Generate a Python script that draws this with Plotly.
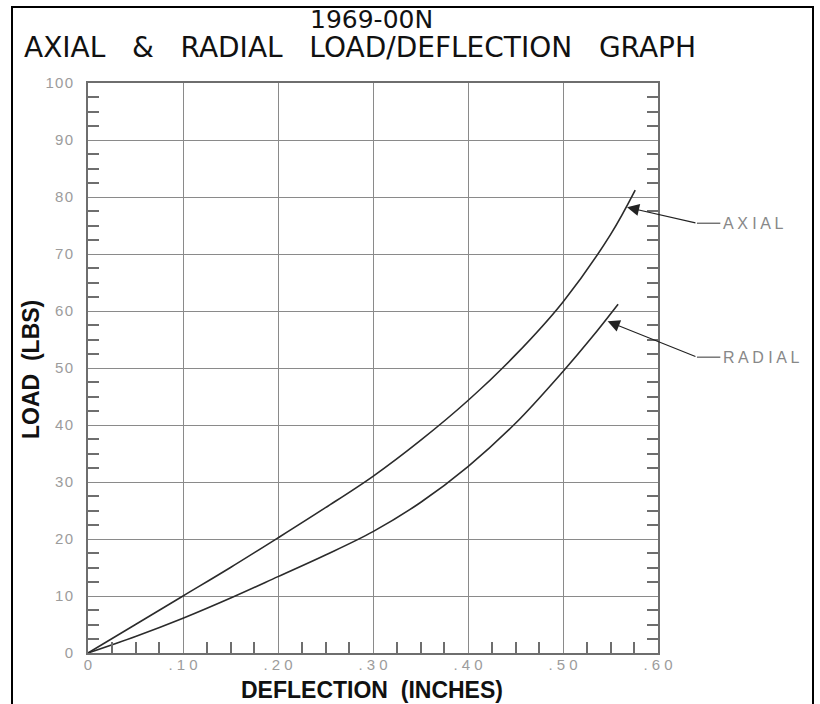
import plotly.graph_objects as go

# Data
axial_x = [0.0, 0.05, 0.10, 0.15, 0.20, 0.25, 0.30, 0.35, 0.40, 0.45, 0.50, 0.55, 0.576]
axial_y = [0.0, 5.0, 10.0, 15.0, 20.2, 25.5, 31.0, 37.3, 44.3, 52.3, 61.6, 73.4, 81.2]
radial_x = [0.0, 0.05, 0.10, 0.155, 0.20, 0.25, 0.30, 0.35, 0.40, 0.45, 0.50, 0.53, 0.558]
radial_y = [0.0, 2.9, 6.1, 10.0, 13.4, 17.2, 21.3, 26.4, 32.7, 40.3, 49.4, 55.3, 61.2]

x_tickvals = [0, 0.1, 0.2, 0.3, 0.4, 0.5, 0.6]
x_ticktext = ["0", ".10", ".20", ".30", ".40", ".50", ".60"]
y_tickvals = [0, 10, 20, 30, 40, 50, 60, 70, 80, 90, 100]
y_ticktext = ["0", "10", "20", "30", "40", "50", "60", "70", "80", "90", "100"]

# Callout anchor points in data units: (tip on curve, bend, label start)
callouts = [
    dict(tip=(0.5674, 78.2), bend=(0.641, 75.4), label=(0.668, 75.4), text="AXIAL"),
    dict(tip=(0.547, 58.2), bend=(0.641, 51.9), label=(0.668, 51.9), text="RADIAL"),
]

XR = [0, 0.6]
YR = [0, 100]
ML, MR, MT, MB = 88, 162, 83, 51
W, H = 820, 704
PW, PH = W - ML - MR, H - MT - MB

def to_px(x):
    return (x - XR[0]) / (XR[1] - XR[0])

def to_py(y):
    return (y - YR[0]) / (YR[1] - YR[0])

def pix_x(p):
    return (p - ML) / PW

def pix_y(p):
    return (H - MB - p) / PH

def spaced(s, sep=" "):
    return sep.join(list(s))

TICKFONT = dict(family="Liberation Sans", size=15, color="#9c9c9c")
LINE_COLOR = "#2b2b2b"
GRID = "#8a8a8a"
AXIS = "#6e6e6e"

fig = go.Figure()
fig.add_trace(go.Scatter(x=axial_x, y=axial_y, mode="lines",
                         line=dict(color=LINE_COLOR, width=1.6, shape="spline", smoothing=1.0),
                         showlegend=False, hoverinfo="skip"))
fig.add_trace(go.Scatter(x=radial_x, y=radial_y, mode="lines",
                         line=dict(color=LINE_COLOR, width=1.6, shape="spline", smoothing=1.0),
                         showlegend=False, hoverinfo="skip"))

annotations = []
shapes = []
for c in callouts:
    annotations.append(dict(x=c["tip"][0], y=c["tip"][1], xref="x", yref="y",
                            ax=c["bend"][0], ay=c["bend"][1], axref="x", ayref="y",
                            text="", showarrow=True, arrowhead=2, arrowsize=2.2, arrowwidth=1.1,
                            arrowcolor="#222222"))
    shapes.append(dict(type="line", xref="paper", yref="paper",
                       x0=to_px(c["bend"][0]), x1=to_px(c["label"][0]) - 0.004,
                       y0=to_py(c["bend"][1]), y1=to_py(c["label"][1]),
                       line=dict(color="#555555", width=1.2)))
    annotations.append(dict(x=to_px(c["label"][0]), y=to_py(c["label"][1]), xref="paper", yref="paper",
                            text=spaced(c["text"]), showarrow=False,
                            xanchor="left", yanchor="middle", xshift=-2,
                            font=dict(family="Liberation Sans", size=16, color="#888888")))

# Titles
annotations.append(dict(x=pix_x(371), y=pix_y(19.5), xref="paper", yref="paper",
                        text="1969-00N", showarrow=False, xanchor="center", yanchor="middle",
                        font=dict(family="DejaVu Sans", size=25, color="#111111")))
annotations.append(dict(x=pix_x(360), y=pix_y(47), xref="paper", yref="paper",
                        text="AXIAL\u00a0\u00a0\u00a0&\u00a0\u00a0\u00a0RADIAL\u00a0\u00a0\u00a0LOAD/DEFLECTION\u00a0\u00a0\u00a0GRAPH",
                        showarrow=False, xanchor="center", yanchor="middle",
                        font=dict(family="DejaVu Sans", size=28, color="#111111")))
# Axis titles
annotations.append(dict(x=pix_x(372), y=pix_y(690), xref="paper", yref="paper",
                        text="<b>DEFLECTION\u00a0\u00a0(INCHES)</b>", showarrow=False,
                        xanchor="center", yanchor="middle",
                        font=dict(family="Liberation Sans", size=23, color="#111111")))
annotations.append(dict(x=pix_x(31), y=pix_y(370), xref="paper", yref="paper",
                        text="<b>LOAD\u00a0\u00a0(LBS)</b>", showarrow=False, textangle=-90,
                        xanchor="center", yanchor="middle",
                        font=dict(family="Liberation Sans", size=23, color="#111111")))

shapes.append(dict(type="rect", xref="paper", yref="paper",
                   x0=pix_x(12), x1=pix_x(813), y0=pix_y(720), y1=pix_y(7),
                   line=dict(color="black", width=2), fillcolor="rgba(0,0,0,0)", layer="below"))

fig.update_layout(
    width=W, height=H,
    margin=dict(l=ML, r=MR, t=MT, b=MB, pad=0),
    paper_bgcolor="white", plot_bgcolor="white",
    annotations=annotations,
    shapes=shapes,
)

fig.update_xaxes(
    range=XR, tickmode="linear", tick0=0, dtick=0.1,
    labelalias={f"{v:g}": spaced(t) for v, t in zip(x_tickvals, x_ticktext)},
    ticks="", showgrid=True, gridcolor=GRID, gridwidth=1,
    showline=True, linecolor=AXIS, linewidth=2, mirror=True,
    zeroline=False, tickfont=TICKFONT, ticklabelstandoff=-3, automargin=False,
    minor=dict(tickmode="linear", dtick=0.025, tick0=0, ticks="inside", ticklen=11,
               tickcolor=AXIS, tickwidth=1.5, showgrid=False),
)
fig.update_yaxes(
    range=YR, tickmode="linear", tick0=0, dtick=10,
    labelalias={f"{v:g}": spaced(t, "\u200a") for v, t in zip(y_tickvals, y_ticktext)},
    ticks="", showgrid=True, gridcolor=GRID, gridwidth=1,
    showline=True, linecolor=AXIS, linewidth=2, mirror="ticks",
    zeroline=False, tickfont=TICKFONT, ticklabelstandoff=10, automargin=False,
    minor=dict(tickmode="linear", dtick=2.5, tick0=0, ticks="inside", ticklen=11,
               tickcolor=AXIS, tickwidth=1.5, showgrid=False),
)

fig.write_html("out.html")
